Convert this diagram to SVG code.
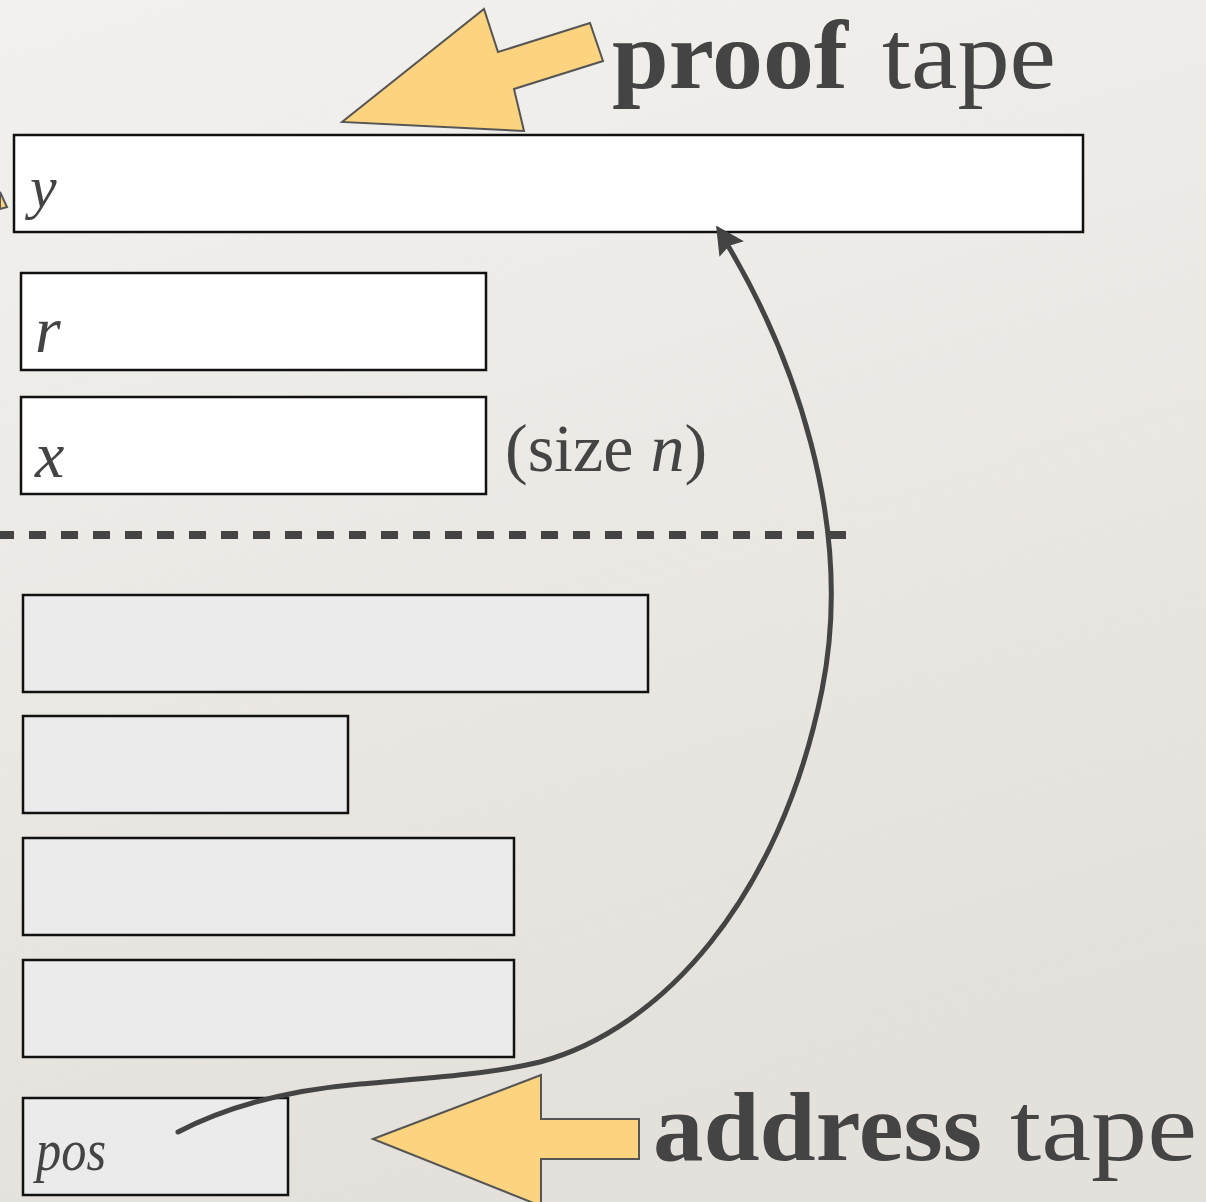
<svg xmlns="http://www.w3.org/2000/svg" width="1206" height="1202" viewBox="0 0 1206 1202">
  <defs>
    <linearGradient id="paper" x1="0" y1="0" x2="0.3" y2="1">
      <stop offset="0" stop-color="#f3f1ee"/>
      <stop offset="1" stop-color="#e4e1dc"/>
    </linearGradient>
    <style>
      .tape { fill: #ffffff; stroke: #111; stroke-width: 2.5; }
      .work { fill: #ebebeb; stroke: #111; stroke-width: 2.5; }
      .var { font-family: "Liberation Serif", serif; font-style: italic; fill: #444; }
      .title { font-family: "Liberation Serif", serif; fill: #444; font-size: 98px; }
      .pointer { fill: #fcd480; stroke: #555; stroke-width: 2; stroke-linejoin: miter; }
      .link { fill: none; stroke: #444; stroke-width: 5; stroke-linecap: round; }
      .head { fill: #444; stroke: #444; stroke-width: 1.5; stroke-linejoin: miter; }
    </style>
  </defs>

  <rect width="1206" height="1202" fill="url(#paper)"/>

  <!-- tip of a pointer entering from the left edge -->
  <polygon class="pointer" points="0,192 7,207 0,209"/>

  <!-- proof tape pointer and caption -->
  <g id="proof-pointer">
    <polygon class="pointer" points="342,122 484,9 498,52 590,23 603,61 514,89 524,131"/>
    <text class="title" x="612" y="88"><tspan font-weight="bold" textLength="236" lengthAdjust="spacingAndGlyphs">proof</tspan><tspan dx="34" textLength="174" lengthAdjust="spacingAndGlyphs">tape</tspan></text>
  </g>

  <!-- input tapes -->
  <g id="tape-y">
    <rect class="tape" x="14" y="135" width="1069" height="97"/>
    <text class="var" x="30" y="207" font-size="60">y</text>
  </g>
  <g id="tape-r">
    <rect class="tape" x="21" y="273" width="465" height="97"/>
    <text class="var" x="35" y="352" font-size="66">r</text>
  </g>
  <g id="tape-x">
    <rect class="tape" x="21" y="397" width="465" height="97"/>
    <text class="var" x="35" y="477" font-size="66">x</text>
    <text x="505" y="471" font-family="Liberation Serif, serif" font-size="68" fill="#444">(size <tspan font-style="italic">n</tspan>)</text>
  </g>

  <!-- divider between input and work tapes -->
  <line x1="0" y1="535" x2="846" y2="535" stroke="#444" stroke-width="8" stroke-dasharray="17 15" stroke-dashoffset="3"/>

  <!-- work tapes -->
  <g id="work-1"><rect class="work" x="23" y="595" width="625" height="97"/></g>
  <g id="work-2"><rect class="work" x="23" y="716" width="325" height="97"/></g>
  <g id="work-3"><rect class="work" x="23" y="838" width="491" height="97"/></g>
  <g id="work-4"><rect class="work" x="23" y="960" width="491" height="97"/></g>
  <g id="tape-pos">
    <rect class="work" x="23" y="1098" width="265" height="97"/>
    <text class="var" x="36" y="1170" font-size="60" textLength="70" lengthAdjust="spacingAndGlyphs">pos</text>
  </g>

  <!-- address tape pointer and caption -->
  <g id="address-pointer">
    <polygon class="pointer" points="373,1139 541,1075 541,1119 639,1119 639,1159 541,1159 541,1206"/>
    <text class="title" x="653" y="1160"><tspan font-weight="bold" textLength="329" lengthAdjust="spacingAndGlyphs">address</tspan><tspan dx="28" textLength="187" lengthAdjust="spacingAndGlyphs">tape</tspan></text>
  </g>

  <!-- connectors: pos points into the proof tape -->
  <g id="connectors">
    <path class="link" d="M178,1132 C230,1105 290,1090 360,1084 C430,1078 490,1074 540,1062 C660,1030 780,900 822,690 C856,520 790,350 727,244"/>
    <polygon class="head" points="717,227 742,241 729,245 720,255"/>
  </g>
</svg>
